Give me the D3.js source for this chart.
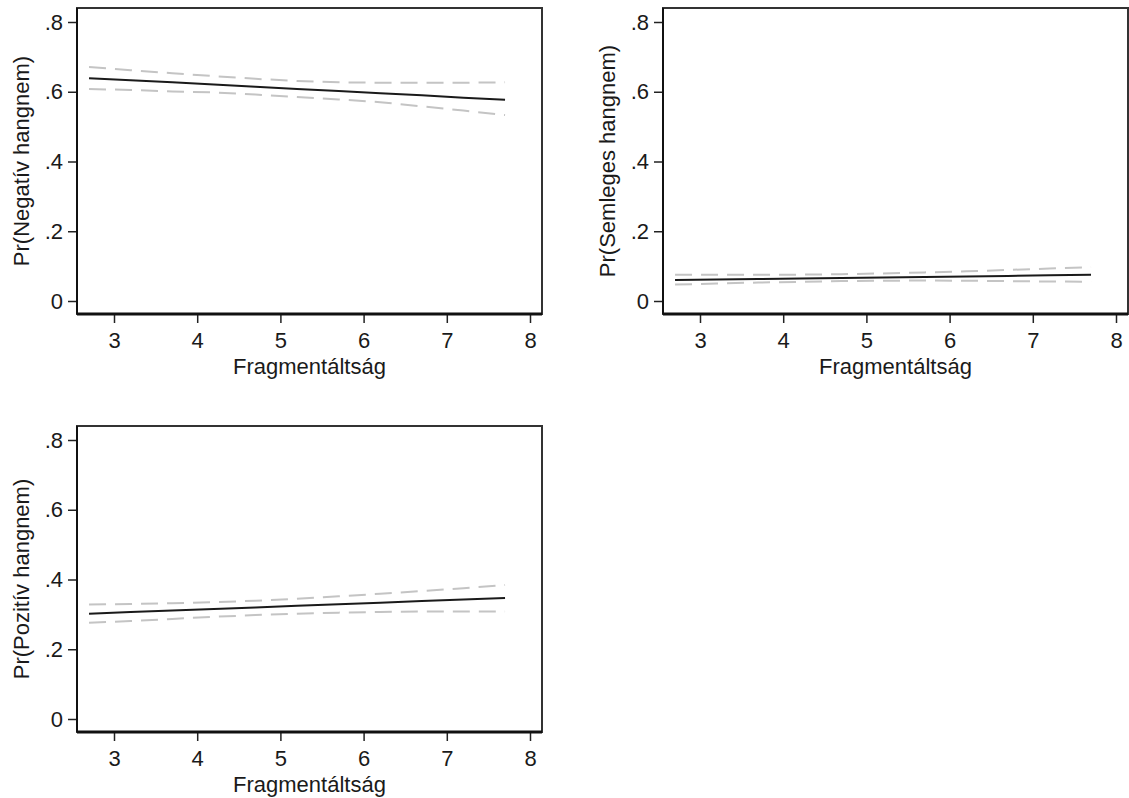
<!DOCTYPE html>
<html>
<head>
<meta charset="utf-8">
<script src="https://cdn.jsdelivr.net/npm/d3@7"></script>
<style>
  html, body { margin: 0; padding: 0; background: #fff; }
  svg { display: block; }
  text { font-family: "Liberation Sans", Arial, sans-serif; fill: #1a1a1a; }
</style>
</head>
<body>
<svg id="chart" width="1129" height="798"></svg>
<script>
// ---- data ----
const fragX = [2.7, 3.2, 3.7, 4.2, 4.7, 5.2, 5.7, 6.2, 6.7, 7.2, 7.7];

const negMean  = [0.639, 0.633, 0.627, 0.621, 0.614, 0.608, 0.602, 0.596, 0.590, 0.583, 0.577];
const negUpper = [0.671, 0.662, 0.653, 0.645, 0.637, 0.631, 0.627, 0.626, 0.626, 0.626, 0.627];
const negLower = [0.608, 0.605, 0.601, 0.598, 0.592, 0.585, 0.578, 0.570, 0.558, 0.546, 0.533];

const neuMean  = [0.060, 0.0615, 0.063, 0.0645, 0.066, 0.0675, 0.069, 0.0705, 0.072, 0.0735, 0.075];
const neuUpper = [0.0755, 0.075, 0.075, 0.0755, 0.077, 0.079, 0.082, 0.085, 0.089, 0.093, 0.097];
const neuLower = [0.047, 0.050, 0.053, 0.055, 0.057, 0.058, 0.059, 0.058, 0.057, 0.056, 0.055];

const posMean  = [0.302, 0.3065, 0.311, 0.3155, 0.320, 0.3245, 0.329, 0.3335, 0.338, 0.3425, 0.347];
const posUpper = [0.328, 0.330, 0.332, 0.335, 0.339, 0.345, 0.352, 0.359, 0.367, 0.375, 0.384];
const posLower = [0.276, 0.281, 0.287, 0.293, 0.298, 0.302, 0.305, 0.307, 0.308, 0.308, 0.308];

const xTicks = [3, 4, 5, 6, 7, 8];
const yTicks = [0, 0.2, 0.4, 0.6, 0.8];
const yTickLabels = ["0", ".2", ".4", ".6", ".8"];
const xTitle = "Fragmentáltság";
const panelTitles = ["Pr(Negatív hangnem)", "Pr(Semleges hangnem)", "Pr(Pozitív hangnem)"];

// ---- layout ----
const panels = [
  { ox: 77,  oy: 8,   title: panelTitles[0], mean: negMean, up: negUpper, lo: negLower },
  { ox: 663, oy: 8,   title: panelTitles[1], mean: neuMean, up: neuUpper, lo: neuLower },
  { ox: 77,  oy: 426, title: panelTitles[2], mean: posMean, up: posUpper, lo: posLower }
];
const W = 465, H = 306;
const FS = 22;

const svg = d3.select("#chart");

panels.forEach(p => {
  const g = svg.append("g").attr("transform", `translate(${p.ox},${p.oy})`);
  const x = d3.scaleLinear().domain([3, 8]).range([37, 453]);
  const y = d3.scaleLinear().domain([0, 0.8]).range([293, 14]);

  // plot region outline
  g.append("rect").attr("x", 0).attr("y", 0).attr("width", W).attr("height", H)
    .attr("fill", "none").attr("stroke", "#333").attr("stroke-width", 2);

  // y axis
  const yAxis = d3.axisLeft(y).tickValues(yTicks)
    .tickFormat((d, i) => yTickLabels[i]).tickSize(9).tickPadding(5).tickSizeOuter(0);
  const ya = g.append("g").attr("class", "y-axis").call(yAxis);
  ya.select(".domain").remove();
  ya.selectAll("line").attr("stroke", "#222").attr("stroke-width", 1.5);
  ya.selectAll("text").style("font-size", FS + "px").style("font-family", '"Liberation Sans", Arial, sans-serif').attr("fill", "#1a1a1a");
  g.append("line").attr("x1", 0).attr("x2", 0).attr("y1", 0).attr("y2", H)
    .attr("stroke", "#111").attr("stroke-width", 2);

  // x axis
  const xAxis = d3.axisBottom(x).tickValues(xTicks).tickFormat(d3.format("d"))
    .tickSize(9).tickPadding(9).tickSizeOuter(0);
  const xa = g.append("g").attr("class", "x-axis").attr("transform", `translate(0,${H})`).call(xAxis);
  xa.select(".domain").remove();
  xa.selectAll("line").attr("stroke", "#222").attr("stroke-width", 1.5);
  xa.selectAll("text").style("font-size", FS + "px").style("font-family", '"Liberation Sans", Arial, sans-serif').attr("fill", "#1a1a1a");
  g.append("line").attr("x1", 0).attr("x2", W).attr("y1", H).attr("y2", H)
    .attr("stroke", "#111").attr("stroke-width", 3);

  // lines
  const line = d3.line().x((d, i) => x(fragX[i])).y(d => y(d));
  g.append("path").datum(p.up).attr("d", line).attr("fill", "none")
    .attr("stroke", "#c4c4c4").attr("stroke-width", 2).attr("stroke-dasharray", "17,9");
  g.append("path").datum(p.lo).attr("d", line).attr("fill", "none")
    .attr("stroke", "#c4c4c4").attr("stroke-width", 2).attr("stroke-dasharray", "17,9");
  g.append("path").datum(p.mean).attr("d", line).attr("fill", "none")
    .attr("stroke", "#1a1a1a").attr("stroke-width", 2);

  // titles
  g.append("text").attr("x", W / 2).attr("y", H + 60).attr("text-anchor", "middle")
    .style("font-size", FS + "px").text(xTitle);
  g.append("text").attr("transform", `translate(-48.5,${H / 2}) rotate(-90)`)
    .attr("text-anchor", "middle").style("font-size", FS + "px").text(p.title);
});
</script>
</body>
</html>
